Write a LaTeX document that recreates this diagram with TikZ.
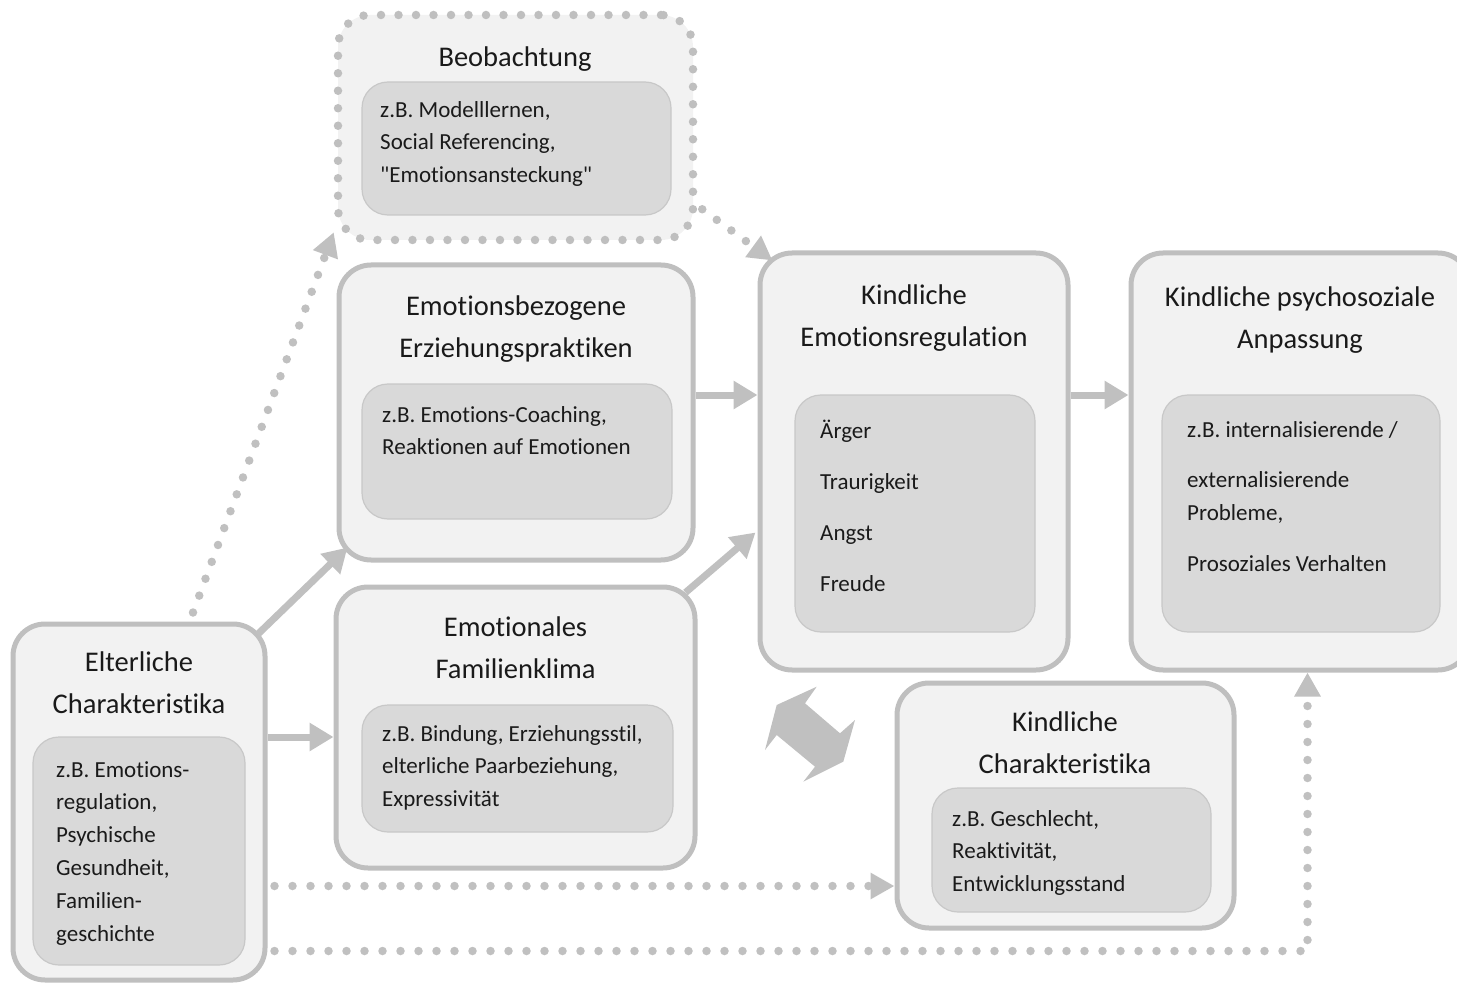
\documentclass[tikz,border=0pt]{standalone}
\usepackage{fontspec}
\setmainfont{Carlito}[Ligatures={NoCommon,TeXOff}]
\usepackage{tikz}
\usetikzlibrary{calc}
\usetikzlibrary{positioning}
\usetikzlibrary{arrows.meta}
\definecolor{boxgray}{HTML}{BFBFBF}
\definecolor{outerfill}{HTML}{F2F2F2}
\definecolor{innerfill}{HTML}{D9D9D9}
\definecolor{innerline}{HTML}{C8C8C8}
\definecolor{arrowgray}{HTML}{C0C0C0}
\definecolor{txt}{HTML}{1A1A1A}
\newcommand{\titlefont}{\fontsize{28.5}{42}\selectfont}
\newcommand{\bodyfont}{\fontsize{23}{32.8}\selectfont}

\begin{document}
\begin{tikzpicture}[x=1pt,y=-1pt,
		outerbox/.style={draw=boxgray,line width=5pt,fill=outerfill,rounded corners=32pt,inner sep=0pt},
		dottedbox/.style={draw=boxgray,line width=8.5pt,line cap=round,dash pattern=on 0pt off 17.5pt,fill=outerfill,rounded corners=32pt,inner sep=0pt},
		innerbox/.style={draw=innerline,line width=1.2pt,fill=innerfill,rounded corners=26pt,inner sep=0pt},
		boxtitle/.style={font=\titlefont,text=txt,align=center,inner sep=0pt,anchor=north},
		boxtext/.style={font=\bodyfont,text=txt,align=left,inner sep=0pt,anchor=north west},
		flowarrow/.style={draw=arrowgray,line width=7pt,-{Triangle[length=24pt,width=27pt]}},
		dotarrow/.style={draw=arrowgray,line width=8.5pt,line cap=round,dash pattern=on 0pt off 18pt,-{Triangle[length=24pt,width=25pt]}}]
		\useasboundingbox (0,0) rectangle (1457,984);
		
		% boxes
		\node[dottedbox, minimum width=355pt, minimum height=225pt] (beob) at (515.5,127.5) {};
		\node[innerbox, minimum width=309pt, minimum height=133pt] (beob-in) at (516.5,148.5) {};
		\node[boxtitle] (beob-t) at (515,47) {Beobachtung};
		\node[boxtext] (beob-x) at (380,101) {z.B. Modelllernen,\\Social Referencing,\\"Emotionsansteckung"};
		
		\node[outerbox, minimum width=354pt, minimum height=295pt] (praktiken) at (516,412.5) {};
		\node[innerbox, minimum width=310pt, minimum height=135pt] (praktiken-in) at (517,451.5) {};
		\node[boxtitle] (praktiken-t) at (516,296) {Emotionsbezogene\\Erziehungspraktiken};
		\node[boxtext] (praktiken-x) at (382,406) {z.B. Emotions-Coaching,\\Reaktionen auf Emotionen};
		
		\node[outerbox, minimum width=359pt, minimum height=281pt] (klima) at (515.5,727.5) {};
		\node[innerbox, minimum width=311pt, minimum height=127pt] (klima-in) at (517.5,768.5) {};
		\node[boxtitle] (klima-t) at (515.5,617) {Emotionales\\Familienklima};
		\node[boxtext] (klima-x) at (382,725) {z.B. Bindung, Erziehungsstil,\\elterliche Paarbeziehung,\\Expressivität};
		
		\node[outerbox, minimum width=252pt, minimum height=356pt] (eltern) at (139,802) {};
		\node[innerbox, minimum width=212pt, minimum height=228pt] (eltern-in) at (139,851) {};
		\node[boxtitle] (eltern-t) at (139,652) {Elterliche\\Charakteristika};
		\node[boxtext] (eltern-x) at (56,761) {z.B. Emotions-\\regulation,\\Psychische\\Gesundheit,\\Familien-\\geschichte};
		
		\node[outerbox, minimum width=308pt, minimum height=417pt] (er) at (914,461.5) {};
		\node[innerbox, minimum width=240pt, minimum height=237pt] (er-in) at (915,513.5) {};
		\node[boxtitle] (er-t) at (914,285) {Kindliche\\Emotionsregulation};
		\node[boxtext] (er-x) at (820,420) {Ärger\\[18pt]Traurigkeit\\[18pt]Angst\\[18pt]Freude};
		
		\node[outerbox, minimum width=339pt, minimum height=417pt] (anpassung) at (1300.5,461.5) {};
		\node[innerbox, minimum width=278pt, minimum height=237pt] (anpassung-in) at (1301,513.5) {};
		\node[boxtitle] (anpassung-t) at (1300,287) {Kindliche psychosoziale\\Anpassung};
		\node[boxtext] (anpassung-x) at (1187,421) {z.B. internalisierende /\\[18pt]externalisierende\\Probleme,\\[18pt]Prosoziales Verhalten};
		
		\node[outerbox, minimum width=337pt, minimum height=245pt] (kc) at (1065.5,805.5) {};
		\node[innerbox, minimum width=279pt, minimum height=124pt] (kc-in) at (1071.5,850) {};
		\node[boxtitle] (kc-t) at (1065,712) {Kindliche\\Charakteristika};
		\node[boxtext] (kc-x) at (952,810) {z.B. Geschlecht,\\Reaktivität,\\Entwicklungsstand};
		
		% rows for straight connectors
		\coordinate (rowA) at (0,737);
		\coordinate (rowB) at (0,395);
		\coordinate (rowC) at (0,886);
		\coordinate (rowD) at (0,951);
		
		\draw[flowarrow] ($(eltern.north east)+(-10,13)$) -- ($(praktiken.south west)+(11,-15)$);
		\draw[flowarrow] (eltern.east |- rowA) -- (klima.west |- rowA);
		\draw[flowarrow] (praktiken.east |- rowB) -- (er.west |- rowB);
		\draw[flowarrow] ($(klima.north east)+(-12,8)$) -- ($(er.west)+(-2,71)$);
		\draw[flowarrow] (er.east |- rowB) -- (anpassung.west |- rowB);
		
		\draw[dotarrow] ($(eltern.north)+(54,-9)$) -- ($(beob.south west)+(0,-12)$);
		\draw[dotarrow] ($(beob.south east)+(5,-35)$) -- ($(er.north west)+(15,10)$);
		\draw[dotarrow, shorten <=7pt] (eltern.east |- rowC) -- (kc.west |- rowC);
		\draw[dotarrow, shorten <=7pt] (eltern.east |- rowD) -| ([xshift=7pt]anpassung.south);
		
		% mutual influence
		\fill[arrowgray] (776.7,705) -- (816.7,686.7) -- (805,703.3) -- (840,733.3) -- (855,720)
			-- (843.3,761.7) -- (803.3,781.7) -- (815,766.7) -- (776.7,735) -- (765,750) -- cycle;
\end{tikzpicture}
\end{document}
